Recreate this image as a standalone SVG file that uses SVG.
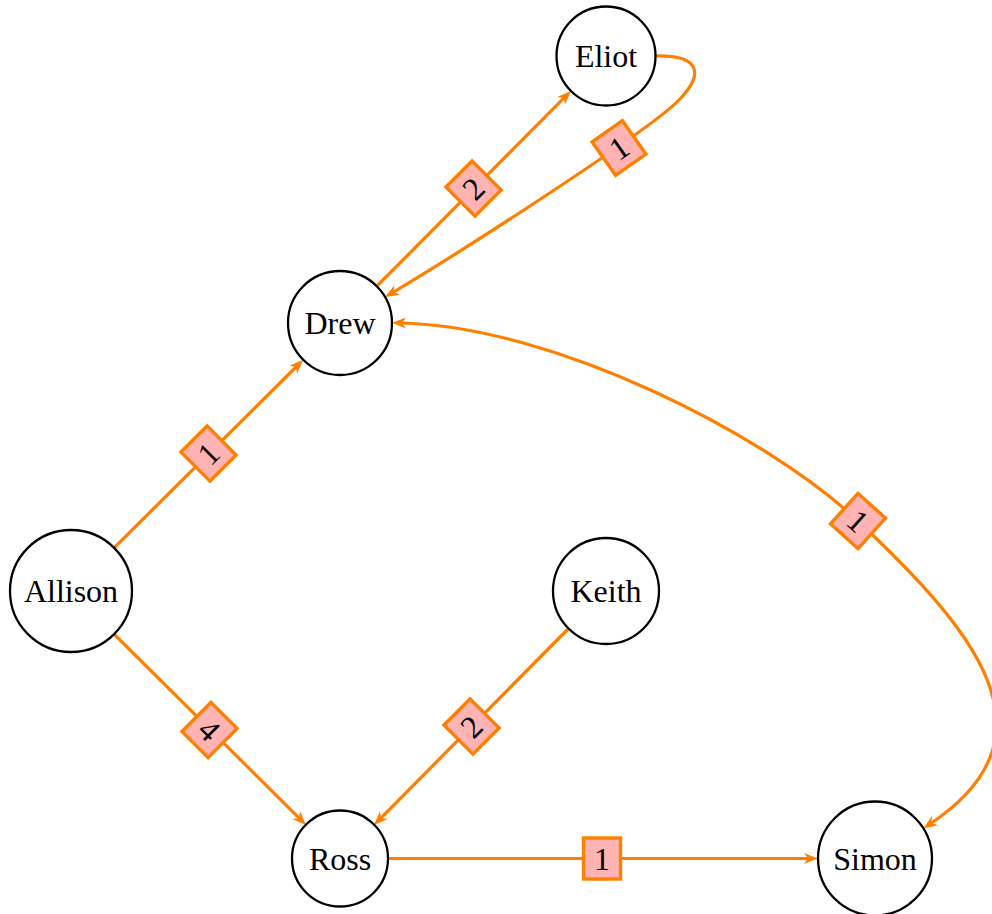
<svg xmlns="http://www.w3.org/2000/svg" width="992" height="914" viewBox="0 0 992 914">
<style>
.node circle{fill:#fff;stroke:#000;stroke-width:2.3}
text{font-family:"Liberation Serif","DejaVu Serif",serif;font-size:32px;text-anchor:middle;fill:#000}
.edge{fill:none;stroke:#FF8000;stroke-width:3.2}
.lbl rect{fill:#FFB3B3;stroke:#FF8000;stroke-width:3.4}
</style>
<defs>
<marker id="arr" markerUnits="userSpaceOnUse" orient="auto-start-reverse" refX="0" refY="0" viewBox="-10 -10 20 20" markerWidth="20" markerHeight="20" overflow="visible">
<path d="M8,0 L-6,-5.5 L-2,0 L-6,5.5 Z" fill="#FF8000"/>
</marker>
</defs>
<g id="connectors">
<path class="edge" d="M114.1,547.9 L297.5,365.5" marker-end="url(#arr)"/>
<path class="edge" d="M114.1,634.1 L300.4,819.4" marker-end="url(#arr)"/>
<path class="edge" d="M568.5,628.5 L379.6,819.4" marker-end="url(#arr)"/>
<path class="edge" d="M388.5,858.5 L810,858.5" marker-end="url(#arr)"/>
<path class="edge" d="M376.8,286.2 L565.3,96.7" marker-end="url(#arr)"/>
<path class="edge" d="M655.5,56 C698,55 706,72 679,100 C650,130 472,245 392,293" marker-end="url(#arr)"/>
<path class="edge" d="M400,323 C555,326 768,436 858,521 C970,627 1065,734 930,824" marker-start="url(#arr)" marker-end="url(#arr)"/>
<g class="lbl" transform="translate(208.5,453.5) rotate(-45)"><rect x="-18.5" y="-20.5" width="37" height="41"/><text x="0" y="11">1</text></g>
<g class="lbl" transform="translate(209.5,730) rotate(45)"><rect x="-18.5" y="-20.5" width="37" height="41"/><text x="0" y="11">4</text></g>
<g class="lbl" transform="translate(471.5,726.5) rotate(-45)"><rect x="-18.5" y="-20.5" width="37" height="41"/><text x="0" y="11">2</text></g>
<g class="lbl" transform="translate(602,858.5)"><rect x="-18.5" y="-20.5" width="37" height="41"/><text x="0" y="11">1</text></g>
<g class="lbl" transform="translate(473.5,188.5) rotate(-45)"><rect x="-18.5" y="-20.5" width="37" height="41"/><text x="0" y="11">2</text></g>
<g class="lbl" transform="translate(619,148) rotate(-35)"><rect x="-18.5" y="-20.5" width="37" height="41"/><text x="0" y="11">1</text></g>
<g class="lbl" transform="translate(858,521) rotate(42)"><rect x="-18.5" y="-20.5" width="37" height="41"/><text x="0" y="11">1</text></g>
</g>
<g id="Eliot" class="node"><circle cx="606" cy="56" r="49.5"/><text x="606" y="67">Eliot</text></g>
<g id="Drew" class="node"><circle cx="340" cy="323" r="52"/><text x="340" y="334">Drew</text></g>
<g id="Allison" class="node"><circle cx="71" cy="591" r="61"/><text x="71" y="602">Allison</text></g>
<g id="Keith" class="node"><circle cx="606" cy="591" r="53"/><text x="606" y="602">Keith</text></g>
<g id="Ross" class="node"><circle cx="340" cy="858.5" r="48"/><text x="340" y="869.5">Ross</text></g>
<g id="Simon" class="node"><circle cx="875" cy="858.5" r="57"/><text x="875" y="869.5">Simon</text></g>
</svg>
